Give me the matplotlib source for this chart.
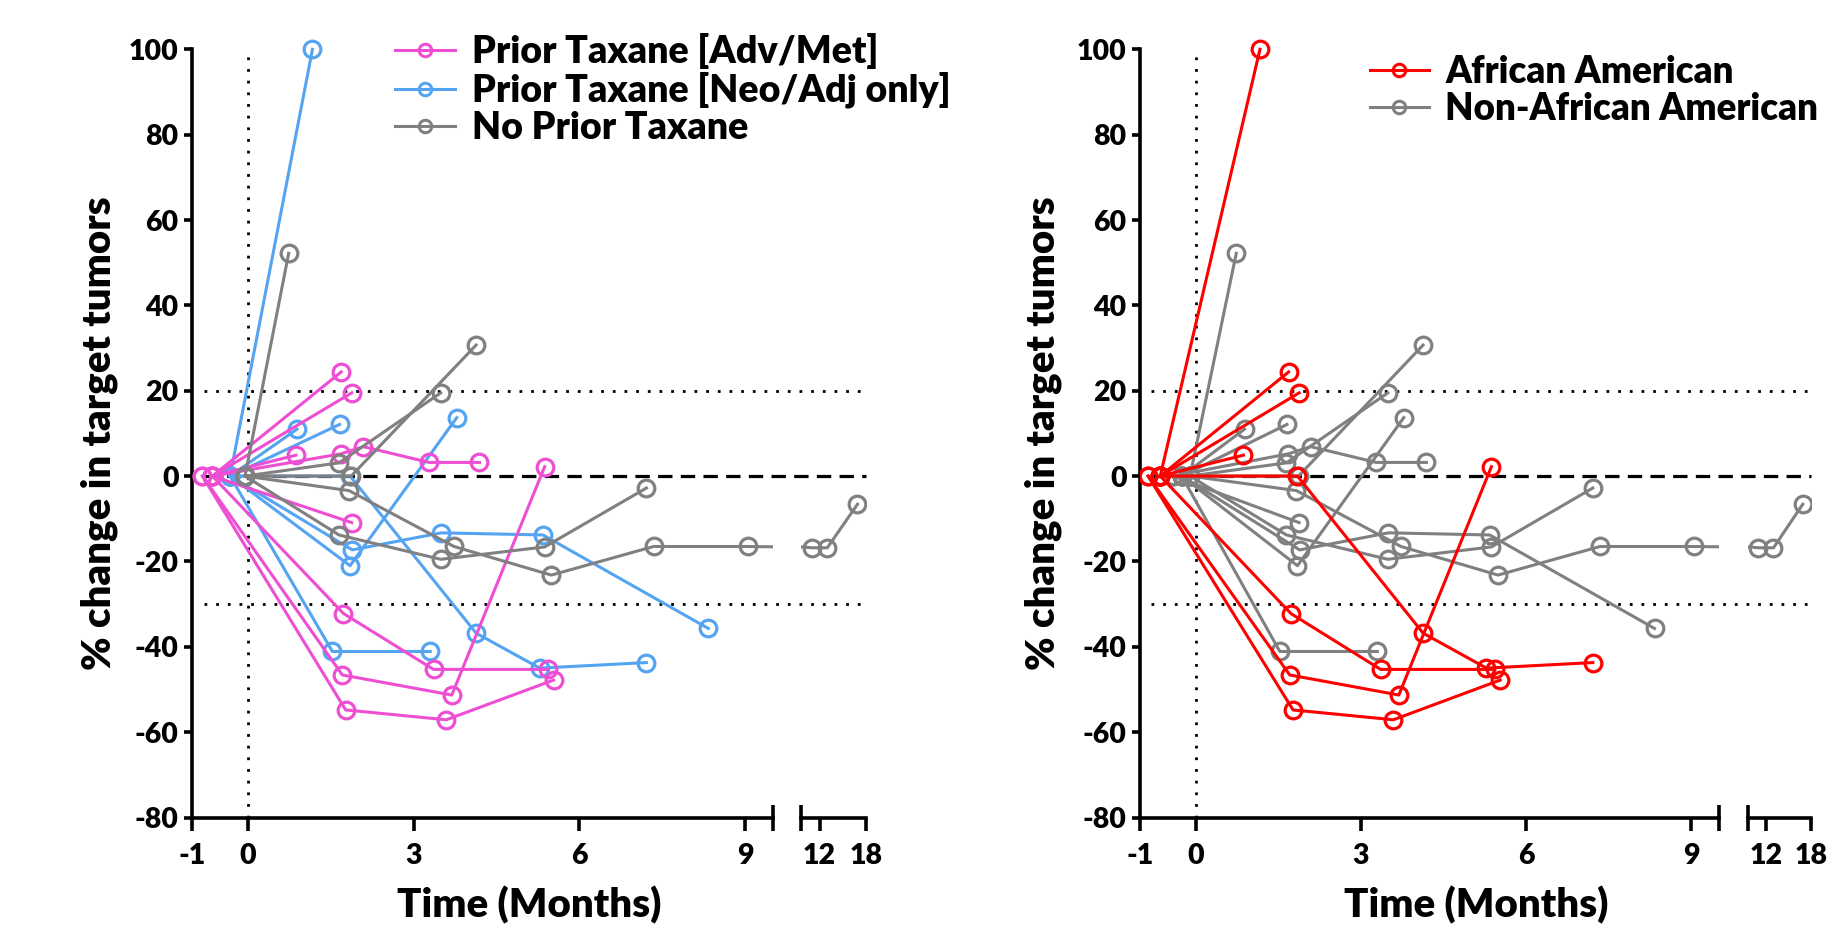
import matplotlib.pyplot as plt
from matplotlib import transforms
from matplotlib.lines import Line2D

plt.rcParams['font.family'] = ['Lato', 'DejaVu Sans']
plt.rcParams['font.weight'] = 'heavy'
plt.rcParams['axes.unicode_minus'] = False

# one entry per patient: taxane group, race group, baseline time (left / right panel),
# follow-up times (months) and % change in target tumors
taxane = ['adv', 'adv', 'adv', 'adv', 'adv', 'adv', 'adv', 'adv',
          'neo', 'neo', 'neo', 'neo', 'neo', 'neo', 'neo',
          'none', 'none', 'none', 'none', 'none']
african_american = [True, True, True, False, False, True, True, True,
                    True, False, False, False, False, True, False,
                    False, False, False, False, False]
base_left = [-0.64, -0.64, -0.64, -0.64, -0.64, -0.64, -0.82, -0.82,
             -0.32, -0.32, -0.32, -0.32, -0.32, -0.32, -0.32,
             -0.05, -0.05, -0.05, -0.05, -0.05]
base_right = [-0.64, -0.64, -0.64, -0.41, -0.41, -0.64, -0.86, -0.86,
              -0.64, -0.25, -0.25, -0.25, -0.25, -0.64, -0.25,
              -0.1, -0.1, -0.1, -0.1, -0.1]
times = [
    [1.69], [1.88], [0.87], [1.68, 2.09, 3.28, 4.19], [1.88],
    [1.73, 3.36, 5.43], [1.71, 3.69, 5.37], [1.77, 3.59, 5.53],
    [1.17], [0.89], [1.66], [1.85, 3.78], [1.89, 3.5, 5.34, 8.33],
    [1.85, 4.13, 5.28, 7.21], [1.53, 3.30],
    [0.74], [1.65, 3.49], [1.87, 4.13],
    [1.83, 3.73, 5.49, 7.34, 9.04, 11.0, 13.0, 16.9],
    [1.65, 3.49, 5.37, 7.21],
]
changes = [
    [24.4], [19.5], [4.9], [5.2, 6.9, 3.2, 3.2], [-10.9],
    [-32.2, -45.3, -45.3], [-46.6, -51.3, 2.2], [-54.8, -57.1, -47.8],
    [100], [11.0], [12.1], [-21.0, 13.7], [-17.3, -13.3, -13.8, -35.7],
    [0, -36.8, -45.0, -43.7], [-41.1, -41.1],
    [52.2], [3.1, 19.5], [0, 30.7],
    [-3.4, -16.5, -23.2, -16.5, -16.5, -16.8, -16.8, -6.6],
    [-13.8, -19.5, -16.6, -2.8],
]

taxane_labels = {'adv': 'Prior Taxane [Adv/Met]', 'neo': 'Prior Taxane [Neo/Adj only]',
                 'none': 'No Prior Taxane'}
taxane_colors = {'adv': '#EE4FD2', 'neo': '#55A4F2', 'none': '#808080'}
race_labels = {True: 'African American', False: 'Non-African American'}
race_colors = {True: '#FF0000', False: '#808080'}

W, H = 1831, 934
fig = plt.figure(figsize=(W / 100, H / 100), dpi=100)

y_bottom = 1 - 817.5 / H
px_per_unit = (817.5 - 49.3) / 180
y_top = 1 - (49.3 - 4 * px_per_unit) / H
LW = 2.2
SEG1 = (-1, 9.5)
SEG2 = (9.6, 18)


def draw_panel(left_px, brk_px, seg2_px, right_px, groups, colors, labels, order, bases,
               ylab_x, leg_x, leg_y, leg_size):
    ax1 = fig.add_axes([left_px / W, y_bottom, (brk_px - left_px) / W, y_top - y_bottom])
    ax2 = fig.add_axes([seg2_px / W, y_bottom, (right_px - seg2_px) / W, y_top - y_bottom])
    ax1.set_xlim(*SEG1)
    ax2.set_xlim(*SEG2)
    for ax in (ax1, ax2):
        ax.set_ylim(-80, 104)
        ax.patch.set_alpha(0)
        for s in ['top', 'right']:
            ax.spines[s].set_visible(False)
        ax.spines['bottom'].set_linewidth(2.6)
        ax.spines['left'].set_linewidth(2.6)
        ax.spines['left'].set_bounds(-80, 100)
        ax.tick_params(axis='x', direction='out', length=9, width=2.6, labelsize=20.5, pad=9)
        ax.tick_params(axis='y', direction='out', length=6, width=2.6, labelsize=20.5, pad=4)
    ax2.spines['left'].set_visible(False)
    ax2.tick_params(axis='y', left=False, labelleft=False)
    ax1.set_yticks(range(-80, 101, 20))
    ax1.set_xticks([-1, 0, 3, 6, 9])
    ax2.set_xticks([12, 18])

    # break caps
    cap = transforms.blended_transform_factory(ax1.transAxes, ax1.transAxes)
    ax1.plot([1], [0], marker='|', ms=19, mew=2.6, color='k', transform=cap, clip_on=False)
    cap2 = transforms.blended_transform_factory(ax2.transAxes, ax2.transAxes)
    ax2.plot([0], [0], marker='|', ms=19, mew=2.6, color='k', transform=cap2, clip_on=False)

    # reference lines
    ax1.vlines(0, -80, 100, colors='k', lw=2, linestyles=[(0, (1, 3.2))])
    fx0 = (left_px + 0.2 * (brk_px - left_px) / 10.5) / W
    fx1 = right_px / W
    ref = transforms.blended_transform_factory(fig.transFigure, ax1.transData)
    for yv in (20, -30):
        ax1.plot([fx0, fx1], [yv, yv], color='k', lw=2, ls=(0, (1, 3.2)),
                 transform=ref, clip_on=False, zorder=1)
    ax1.plot([fx0, fx1], [0, 0], color='k', lw=2.3, ls=(0, (4.5, 2.6)),
             transform=ref, clip_on=False, zorder=1)

    for g in order:
        for i in range(len(times)):
            if groups[i] != g:
                continue
            xs = [bases[i]] + times[i]
            ys = [0] + changes[i]
            ax1.plot(xs, ys, color=colors[g], lw=LW, marker='o', ms=12,
                     mfc='none', mec=colors[g], mew=2.3, zorder=3)
            if max(xs) > SEG2[0]:
                ax2.plot(xs, ys, color=colors[g], lw=LW, zorder=3)
                late = [(x, y) for x, y in zip(xs, ys) if x >= SEG2[0]]
                ax2.plot([p[0] for p in late], [p[1] for p in late], ls='none',
                         marker='o', ms=12, mfc='none', mec=colors[g], mew=2.3, zorder=3)

    handles = [Line2D([], [], color=colors[g], lw=LW, marker='o', ms=9, mfc='none',
                      mew=2.2) for g in labels]
    fig.legend(handles, list(labels.values()), loc='upper left',
               bbox_to_anchor=(leg_x / W, 1 - leg_y / H), frameon=False, fontsize=leg_size,
               handlelength=1.6, handletextpad=0.45, labelspacing=0.07,
               borderpad=0, borderaxespad=0)

    fig.text(ylab_x / W, 1 - 433 / H, '% change in target tumors', rotation=90,
             ha='center', va='center', fontsize=29)
    fig.text((left_px + right_px) / 2 / W, 1 - 905 / H, 'Time (Months)',
             ha='center', va='center', fontsize=29)


draw_panel(192.5, 773, 801, 866, taxane, taxane_colors, taxane_labels,
           ['neo', 'adv', 'none'], base_left, 99, 395, 33, 27)
draw_panel(1140.4, 1719, 1748, 1811, african_american, race_colors, race_labels,
           [False, True], base_right, 1043, 1370, 55, 26.5)

fig.savefig('out.png', dpi=100)
